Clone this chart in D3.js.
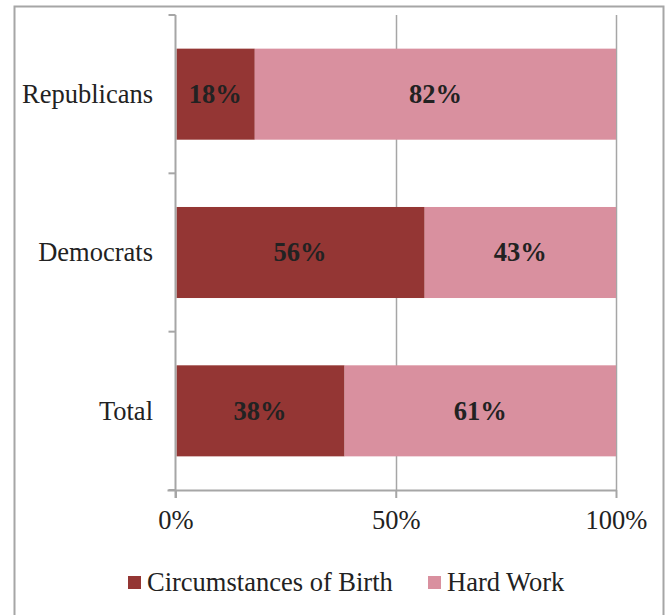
<!DOCTYPE html>
<html>
<head>
<meta charset="utf-8">
<script src="https://cdn.jsdelivr.net/npm/d3@7"></script>
<style>
  html, body { margin: 0; padding: 0; background: #fff; }
  svg { display: block; }
  svg text { font-family: "Liberation Serif", Tinos, "Times New Roman", "DejaVu Serif", serif; fill: #222; }
</style>
</head>
<body>
<div id="chart"></div>
<script>
// Survey responses by group (percent)
const categories = ["Republicans", "Democrats", "Total"];
const seriesNames = ["Circumstances of Birth", "Hard Work"];
const birthValues = [18, 56, 38];
const workValues = [82, 43, 61];
const tickValues = [0, 0.5, 1];
const tickLabels = ["0%", "50%", "100%"];
const colors = ["#943634", "#d9909f"];

const W = 667, H = 615;
const FONT = 26.5;
const svg = d3.select("#chart").append("svg").attr("width", W).attr("height", H);

// outer frame (open at the bottom)
svg.append("path")
  .attr("d", `M14.5,${H} V6.5 H663.5 V${H}`)
  .attr("fill", "none").attr("stroke", "#a6a6a6").attr("stroke-width", 2);

const plotLeft = 175.5, plotRight = 616, plotTop = 15, plotBottom = 490;

const rows = categories.map((c, i) => ({ cat: c, birth: birthValues[i], work: workValues[i] }));
const keys = ["birth", "work"];
const stack = d3.stack().keys(keys).offset(d3.stackOffsetExpand);
const layers = stack(rows);

const x = d3.scaleLinear().domain([0, 1]).range([plotLeft, plotRight]);
const y = d3.scaleBand().domain(categories).range([plotTop, plotBottom]).paddingInner(0.425).paddingOuter(0.2125);

// vertical gridlines
svg.append("g").selectAll("line").data(tickValues.slice(1)).join("line")
  .attr("x1", d => Math.round(x(d)) + 0.5).attr("x2", d => Math.round(x(d)) + 0.5)
  .attr("y1", plotTop).attr("y2", plotBottom)
  .attr("stroke", "#a6a6a6").attr("stroke-width", 1.5);

// bars
const g = svg.append("g");
layers.forEach((layer, li) => {
  g.append("g").attr("fill", colors[li]).selectAll("rect").data(layer).join("rect")
    .attr("x", d => x(d[0]) + (li === 0 ? 1 : 0))
    .attr("width", d => x(d[1]) - x(d[0]) - (li === 0 ? 1 : 0))
    .attr("y", d => y(d.data.cat))
    .attr("height", y.bandwidth());
});

// value labels
layers.forEach((layer, li) => {
  g.append("g").selectAll("text").data(layer).join("text")
    .attr("x", d => (x(d[0]) + x(d[1])) / 2)
    .attr("y", d => y(d.data.cat) + y.bandwidth() / 2)
    .attr("text-anchor", "middle").attr("dy", "0.33em")
    .attr("font-size", FONT).attr("font-weight", "bold")
    .text(d => d.data[keys[li]] + "%");
});

// y axis with category boundary ticks
const yAxisG = svg.append("g").attr("stroke", "#a6a6a6").attr("stroke-width", 2);
yAxisG.append("line").attr("x1", plotLeft).attr("x2", plotLeft).attr("y1", plotTop).attr("y2", plotBottom + 8);
const bounds = [plotTop].concat(categories.map(c => y(c) + y.bandwidth() + y.step() * y.paddingInner() / 2));
yAxisG.selectAll("line.t").data(bounds).join("line").attr("class", "t")
  .attr("x1", plotLeft - 7).attr("x2", plotLeft).attr("y1", d => d).attr("y2", d => d);

// x axis
const xAxis = d3.axisBottom(x).tickValues(tickValues).tickFormat((d, i) => tickLabels[i]).tickSize(8).tickPadding(12);
const xg = svg.append("g").attr("transform", `translate(0,${plotBottom})`).call(xAxis);
xg.attr("font-family", null).attr("font-size", null);
xg.select(".domain").attr("d", `M${plotLeft - 8},0.5H${plotRight}`).attr("stroke", "#a6a6a6").attr("stroke-width", 2);
xg.selectAll(".tick line").attr("stroke", "#a6a6a6").attr("stroke-width", 2);
xg.selectAll(".tick text").attr("font-size", FONT).attr("fill", "#222");

// category labels
svg.append("g").selectAll("text").data(categories).join("text")
  .attr("x", 153).attr("y", d => y(d) + y.bandwidth() / 2)
  .attr("text-anchor", "end").attr("dy", "0.33em")
  .attr("font-size", FONT).text(d => d);

// legend
const legendItems = [{ name: seriesNames[0], x: 128 }, { name: seriesNames[1], x: 428 }];
const lg = svg.append("g").selectAll("g").data(legendItems).join("g")
  .attr("transform", d => `translate(${d.x},576)`);
lg.append("rect").attr("width", 13).attr("height", 13).attr("fill", (d, i) => colors[i]);
lg.append("text").attr("x", 19).attr("y", 6.5).attr("dy", "0.33em")
  .attr("font-size", FONT).text(d => d.name);
</script>
</body>
</html>
